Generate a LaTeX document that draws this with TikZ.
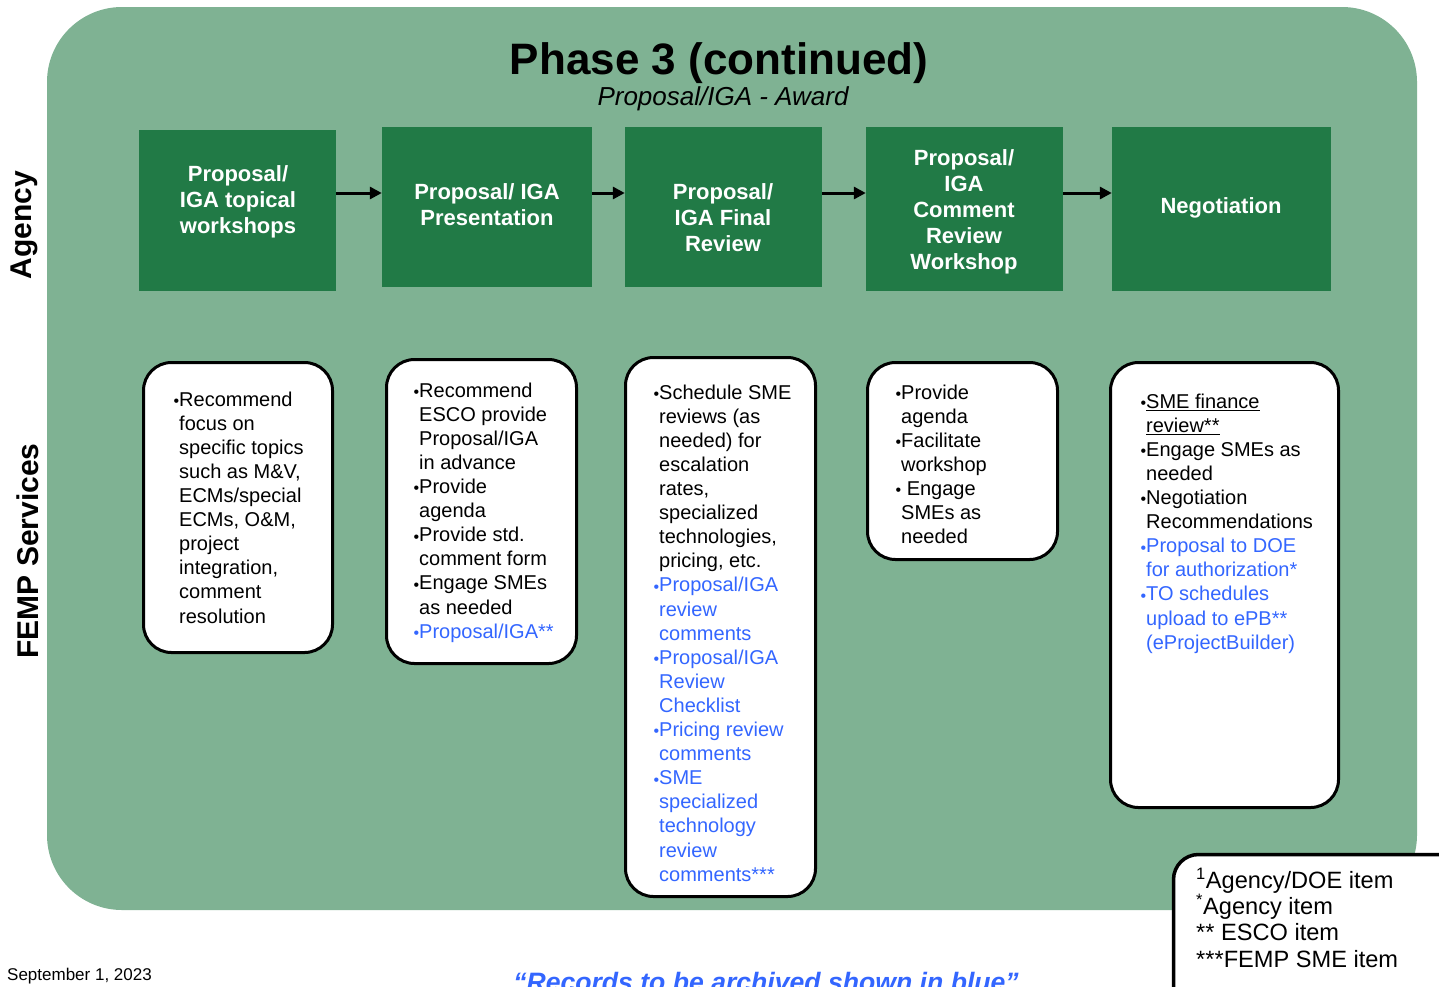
\documentclass[tikz,border=0pt]{standalone}
\usepackage{fontspec}
\usepackage{graphicx}
\setmainfont{Liberation Sans}
\usetikzlibrary{arrows.meta}
\definecolor{bggreen}{RGB}{127,178,147}
\definecolor{dkgreen}{RGB}{33,122,70}
\definecolor{recblue}{RGB}{51,102,255}
\newcommand{\bl}{\llap{\raisebox{-0.3pt}{\fontsize{16}{16}\selectfont •}}}
\newcommand{\B}[1]{\textcolor{recblue}{#1}}
\tikzset{
  agbox/.style={fill=dkgreen, draw=none, inner sep=0pt},
  fempbox/.style={draw=black, line width=3pt, fill=white, rounded corners=28pt, inner sep=0pt},
  agtxt/.style={text=white, font=\bfseries\fontsize{22}{26}\selectfont, align=center, inner sep=0pt},
  btxt/.style={font=\fontsize{20}{24.1}\selectfont, align=left, anchor=north west, inner sep=0pt},
  flow/.style={line width=3pt, -{Triangle[length=12pt,width=12pt]}},
  side/.style={font=\bfseries\fontsize{30}{30}\selectfont, rotate=90, inner sep=0pt},
}
\begin{document}
\begin{tikzpicture}[x=1pt,y=-1pt]
\clip (0,0) rectangle (1439,986);
\useasboundingbox (0,0) rectangle (1439,986);
% background
\path[fill=bggreen, rounded corners=75pt] (47,7) rectangle (1417,910);
% titles
\node[font=\bfseries\fontsize{44}{44}\selectfont, inner sep=0pt] (title) at (719,63) {Phase 3 (continued)};
\node[font=\itshape\fontsize{26}{26}\selectfont, inner sep=0pt] (subtitle) at (723,99) {Proposal/IGA - Award};
% side labels
\node[side] (agency) at (24,225) {Agency};
\node[side] (femp) at (28,551) {FEMP Services};
% agency boxes
\node[agbox, minimum width=197pt, minimum height=161pt] (a1) at (237.5,210.5) {};
\node[agbox, minimum width=210pt, minimum height=160pt] (a2) at (487,207) {};
\node[agbox, minimum width=197pt, minimum height=160pt] (a3) at (723.5,207) {};
\node[agbox, minimum width=197pt, minimum height=164pt] (a4) at (964.5,209) {};
\node[agbox, minimum width=219pt, minimum height=164pt] (a5) at (1221.5,209) {};
\node[agtxt] (t1) at (238,202) {Proposal/\\IGA topical\\workshops};
\node[agtxt] (t2) at (487,205) {Proposal/ IGA\\Presentation};
\node[agtxt] (t3) at (723,218) {Proposal/\\IGA Final\\Review};
\node[agtxt] (t4) at (964,212) {Proposal/\\IGA\\Comment\\Review\\Workshop};
\node[agtxt] (t5) at (1221,208) {Negotiation};
% arrows
\coordinate (ay) at (0,193);
\draw[flow] (a1.east |- ay) -- (a2.west |- ay);
\draw[flow] (a2.east |- ay) -- (a3.west |- ay);
\draw[flow] (a3.east |- ay) -- (a4.west |- ay);
\draw[flow] (a4.east |- ay) -- (a5.west |- ay);
% FEMP boxes
\node[fempbox, minimum width=189pt, minimum height=290pt] (f1) at (238,507.5) {};
\node[fempbox, minimum width=190pt, minimum height=304pt] (f2) at (481.5,511.5) {};
\node[fempbox, minimum width=190pt, minimum height=539pt] (f3) at (720.5,627) {};
\node[fempbox, minimum width=190pt, minimum height=197pt] (f4) at (962.5,461) {};
\node[fempbox, minimum width=228pt, minimum height=445pt] (f5) at (1224.5,585) {};
\node[btxt] (x1) at (179,389.1) {\strut\bl Recommend\\ focus on\\ specific topics\\ such as M\&V,\\ ECMs/special\\ ECMs, O\&M,\\ project\\ integration,\\ comment\\ resolution};
\node[btxt] (x2) at (419,380.1) {\strut\bl Recommend\\ ESCO provide\\ Proposal/IGA\\ in advance\\ \bl Provide\\ agenda\\ \bl Provide std.\\ comment form\\ \bl Engage SMEs\\ as needed\\ \B{\bl Proposal/IGA**}};
\node[btxt] (x3) at (659,382.1) {\strut\bl Schedule SME\\ reviews (as\\ needed) for\\ escalation\\ rates,\\ specialized\\ technologies,\\ pricing, etc.\\ \B{\bl Proposal/IGA}\\ \B{review}\\ \B{comments}\\ \B{\bl Proposal/IGA}\\ \B{Review}\\ \B{Checklist}\\ \B{\bl Pricing review}\\ \B{comments}\\ \B{\bl SME}\\ \B{specialized}\\ \B{technology}\\ \B{review}\\ \B{comments***}};
\node[btxt] (x4) at (901,382.1) {\strut\bl Provide\\ agenda\\ \bl Facilitate\\ workshop\\ \bl\ Engage\\ SMEs as\\ needed};
\node[btxt] (x5) at (1146,391.1) {\strut\bl\underline{SME finance}\\ \underline{review**}\\ \bl Engage SMEs as\\ needed\\ \bl Negotiation\\ Recommendations\\ \B{\bl Proposal to DOE}\\ \B{for authorization*}\\ \B{\bl TO schedules}\\ \B{upload to ePB**}\\ \B{(eProjectBuilder)}};
% legend
\draw[line width=3.5pt, fill=white, rounded corners=25pt] (1173.5,854.5) rectangle (1470,1030);
\node[font=\fontsize{23.6}{26.4}\selectfont, align=left, anchor=north west, inner sep=0pt] (legend) at (1196,869.5) {\strut\smash{\textsuperscript{1}}Agency/DOE item\\ \smash{\textsuperscript{*}}Agency item\\ ** ESCO item\\ ***FEMP SME item};
% footer
\node[font=\fontsize{17}{17}\selectfont, anchor=base west, inner sep=0pt] (date) at (7,980) {September 1, 2023};
\node[font=\bfseries\itshape\fontsize{26.6}{26.6}\selectfont, text=recblue, anchor=base, inner sep=0pt] (note) at (766,991) {“Records to be archived shown in blue”};
\end{tikzpicture}
\end{document}
